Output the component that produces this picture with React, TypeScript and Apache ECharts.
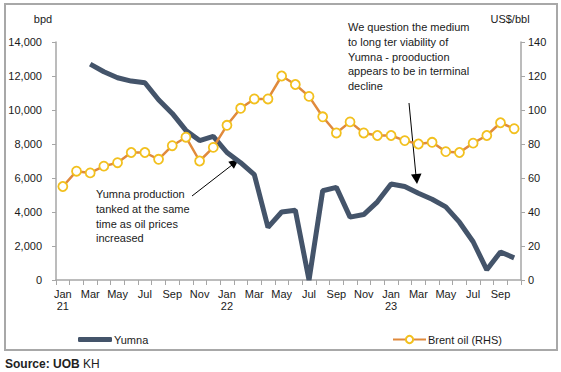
import React, { useEffect, useRef } from "react";
import * as echarts from "echarts";

const categories = [
  "Jan 21", "Feb 21", "Mar 21", "Apr 21", "May 21", "Jun 21", "Jul 21", "Aug 21", "Sep 21", "Oct 21", "Nov 21", "Dec 21",
  "Jan 22", "Feb 22", "Mar 22", "Apr 22", "May 22", "Jun 22", "Jul 22", "Aug 22", "Sep 22", "Oct 22", "Nov 22", "Dec 22",
  "Jan 23", "Feb 23", "Mar 23", "Apr 23", "May 23", "Jun 23", "Jul 23", "Aug 23", "Sep 23", "Oct 23",
];

const yumna = [
  null, null, 12700, 12250, 11900, 11700, 11600, 10600, 9800, 8800, 8200, 8450,
  7500, 6900, 6200, 3100, 4000, 4100, 0, 5250, 5450, 3700, 3850, 4600,
  5650, 5500, 5100, 4750, 4300, 3400, 2250, 600, 1650, 1300,
];

const brent = [
  55, 64, 63, 67, 69, 75, 75, 71, 79, 84, 70, 78,
  91, 101, 106.5, 106.5, 120, 115, 108, 96, 86.5, 93, 86.5, 85,
  85, 82, 80, 81, 75.5, 75, 80.5, 85, 92.5, 89,
];

const leftTitle = "bpd";
const rightTitle = "US$/bbl";
const note1 = "We question the medium\nto long ter viability of\nYumna - prooduction\nappears to be in terminal\ndecline";
const note2 = "Yumna production\ntanked at the same\ntime as oil prices\nincreased";

const FONT = "Liberation Sans, Arial, sans-serif";
const TXT = "#1a1a1a";
const AXIS = "#a6a6a6";

export default function App() {
  const ref = useRef<HTMLDivElement>(null);
  useEffect(() => {
    if (!ref.current) return;
    const chart = echarts.init(ref.current, null, { renderer: "svg" });
    chart.setOption({
      animation: false,
      backgroundColor: "#ffffff",
      textStyle: { fontFamily: FONT },
      grid: { left: 56, right: 40, top: 42, bottom: 92 },
      legend: [
        {
          left: 73,
          top: 329,
          data: [{ name: "Yumna", icon: "roundRect" }],
          itemWidth: 34,
          itemHeight: 5,
          itemGap: 2,
          textStyle: { fontSize: 11, color: TXT, fontFamily: FONT, padding: [0, 0, 0, -3] },
        },
        {
          left: 387,
          top: 329,
          data: ["Brent oil (RHS)"],
          itemWidth: 33,
          itemHeight: 9,
          textStyle: { fontSize: 11, color: TXT, fontFamily: FONT, padding: [0, 0, 0, -3] },
        },
      ],
      xAxis: {
        type: "category",
        data: categories,
        axisLine: { lineStyle: { color: AXIS, width: 1.5 } },
        axisTick: { show: true, interval: 0, length: 5, lineStyle: { color: AXIS } },
        axisLabel: {
          interval: 1,
          margin: 8,
          fontSize: 11,
          color: TXT,
          lineHeight: 12,
          formatter: (v: string) => {
            const [m, y] = v.split(" ");
            return m === "Jan" ? m + "\n" + y : m;
          },
        },
      },
      yAxis: [
        {
          type: "value",
          min: 0,
          max: 14000,
          interval: 2000,
          splitLine: { show: false },
          axisLine: { show: true, lineStyle: { color: AXIS, width: 1.5 } },
          axisTick: { show: true, length: 4, lineStyle: { color: AXIS } },
          axisLabel: {
            fontSize: 11,
            color: TXT,
            margin: 14,
            formatter: (v: number) => v.toLocaleString("en-US"),
          },
        },
        {
          type: "value",
          min: 0,
          max: 140,
          interval: 20,
          splitLine: { show: false },
          axisLine: { show: true, lineStyle: { color: AXIS, width: 1.5 } },
          axisTick: { show: true, length: 4, lineStyle: { color: AXIS } },
          axisLabel: { fontSize: 11, color: TXT, margin: 7 },
        },
      ],
      series: [
        {
          name: "Yumna",
          type: "line",
          yAxisIndex: 0,
          data: yumna,
          symbol: "none",
          lineStyle: { color: "#44546a", width: 5 },
          itemStyle: { color: "#44546a" },
          z: 2,
        },
        {
          name: "Brent oil (RHS)",
          type: "line",
          yAxisIndex: 1,
          data: brent,
          symbol: "circle",
          symbolSize: 9,
          lineStyle: { color: "#e08a3c", width: 2.5 },
          itemStyle: { color: "#ffffff", borderColor: "#f2c01e", borderWidth: 1.8 },
          z: 3,
        },
      ],
      graphic: [
        {
          type: "rect",
          shape: { x: 5, y: 4, width: 552, height: 346 },
          style: { fill: "none", stroke: "#a8a8a8", lineWidth: 2 },
          silent: true,
        },
        {
          type: "text",
          x: 43,
          y: 19,
          style: { text: leftTitle, fontSize: 11, fill: TXT, fontFamily: FONT, textAlign: "center", textVerticalAlign: "middle" },
        },
        {
          type: "text",
          x: 510,
          y: 19,
          style: { text: rightTitle, fontSize: 11, fill: TXT, fontFamily: FONT, textAlign: "center", textVerticalAlign: "middle" },
        },
        {
          type: "text",
          x: 348,
          y: 20,
          style: { text: note1, fontSize: 11, lineHeight: 14.6, fill: TXT, fontFamily: FONT },
        },
        {
          type: "text",
          x: 96,
          y: 187,
          style: { text: note2, fontSize: 11, lineHeight: 14.6, fill: TXT, fontFamily: FONT },
        },
        {
          type: "line",
          shape: { x1: 409, y1: 103, x2: 416, y2: 176 },
          style: { stroke: "#000", lineWidth: 1 },
        },
        {
          type: "polygon",
          shape: { points: [[417, 184], [421.5, 173.6], [411, 174.4]] },
          style: { fill: "#000" },
        },
        {
          type: "line",
          shape: { x1: 192, y1: 196, x2: 232, y2: 165 },
          style: { stroke: "#000", lineWidth: 1 },
        },
        {
          type: "polygon",
          shape: { points: [[239, 159], [233.9, 168.7], [228.3, 161.7]] },
          style: { fill: "#000" },
        },
        {
          type: "text",
          x: 5,
          y: 364,
          style: {
            text: "{b|Source: UOB} {n|KH}",
            textVerticalAlign: "middle",
            rich: {
              b: { fontSize: 12, fontWeight: "bold", fill: "#222", fontFamily: FONT },
              n: { fontSize: 12, fill: "#222", fontFamily: FONT },
            },
          },
        },
      ],
    });
    return () => chart.dispose();
  }, []);
  return (
    <div
      ref={ref}
      style={{ position: "fixed", left: 0, top: 0, width: 561, height: 372, background: "#fff" }}
    />
  );
}
